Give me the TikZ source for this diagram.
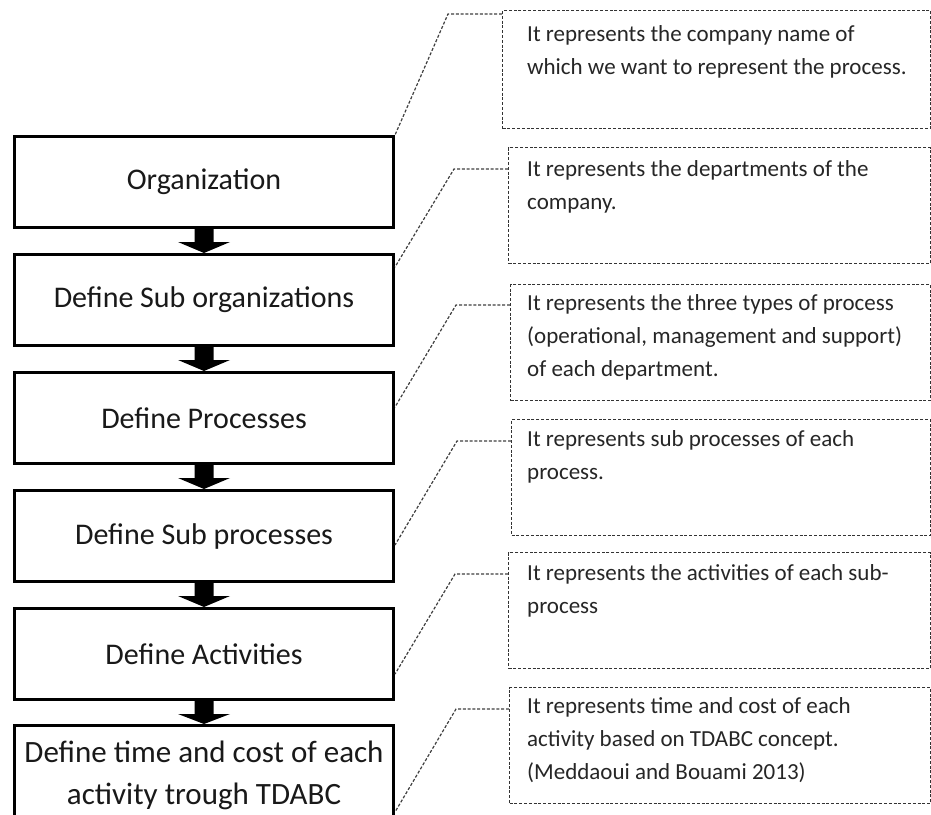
\documentclass[tikz,border=0pt]{standalone}
\usepackage{fontspec}
\setmainfont{Carlito}
\usetikzlibrary{calc}
\newcommand\blockarrow[2]{%
  \fill[black] ($(#1.south)+(-9.5,0)$) -- ($(#1.south)+(-9.5,13)$) -- ($(#1.south)+(-26,13)$) -- (#2.north)
    -- ($(#1.south)+(26,13)$) -- ($(#1.south)+(9.5,13)$) -- ($(#1.south)+(9.5,0)$) -- cycle;}
\begin{document}
\begin{tikzpicture}[x=1pt,y=-1pt,
  stepbox/.style={draw=black, line width=3pt, fill=white, minimum width=379pt, minimum height=91pt,
    anchor=north west, inner sep=0pt, font=\fontsize{30}{36}\selectfont, text=black!90, align=center},
  callout/.style={draw=black!80, line width=1.3pt, dash pattern=on 3pt off 1.8pt,
    minimum height=116pt, anchor=north west, inner sep=0pt},
  ctext/.style={anchor=base west, inner sep=0pt, align=left, font=\fontsize{23}{33}\selectfont, text=black!85},
  conn/.style={draw=black!75, line width=1.2pt, dash pattern=on 3pt off 1.8pt}
]
\useasboundingbox (0,0) rectangle (931,814);
\clip (0,0) rectangle (931,814);
\fill[white] (0,0) rectangle (931,814);

% process boxes
\node[stepbox] (b1) at (13,135) {Organization};
\node[stepbox] (b2) at (13,253) {Define Sub organizations};
\node[stepbox] (b3) at (13,371) {Define Processes};
\node[stepbox] (b4) at (13,489) {Define Sub processes};
\node[stepbox] (b5) at (13,607) {Define Activities};
\node[stepbox, minimum height=100pt, font=\fontsize{31}{42}\selectfont] (b6) at (13,724)
  {Define time and cost of each\\activity trough TDABC};

\blockarrow{b1}{b2}
\blockarrow{b2}{b3}
\blockarrow{b3}{b4}
\blockarrow{b4}{b5}
\blockarrow{b5}{b6}

% callout boxes
\node[callout, minimum width=428pt, minimum height=118pt] (c1) at (502,10) {};
\node[callout, minimum width=422pt] (c2) at (508,147) {};
\node[callout, minimum width=420pt] (c3) at (510,284) {};
\node[callout, minimum width=419pt] (c4) at (511,419) {};
\node[callout, minimum width=422pt] (c5) at (508,552) {};
\node[callout, minimum width=421pt] (c6) at (509,687) {};

% callout texts (anchored at the baseline of their last line)
\node[ctext] (t1) at (527,74) {It represents the company name of\\which we want to represent the process.};
\node[ctext] (t2) at (527,209) {It represents the departments of the\\company.};
\node[ctext] (t3) at (527,376) {It represents the three types of process\\(operational, management and support)\\of each department.};
\node[ctext] (t4) at (527,479) {It represents sub processes of each\\process.};
\node[ctext] (t5) at (527,613) {It represents the activities of each sub-\\process};
\node[ctext] (t6) at (527,779) {It represents time and cost of each\\activity based on TDABC concept.\\(Meddaoui and Bouami 2013)};

% connector bends
\coordinate (k1) at (448,14);
\coordinate (k2) at (454,169);
\coordinate (k3) at (456,305);
\coordinate (k4) at (457,441);
\coordinate (k5) at (455,574);
\coordinate (k6) at (456,709);
% connector ends on the boxes
\coordinate (e2) at ($(b2.north east)+(0,14)$);
\coordinate (e3) at ($(b3.north east)+(0,36)$);
\coordinate (e4) at ($(b4.north east)+(0,56)$);
\coordinate (e5) at ($(b5.north east)+(0,67)$);
\coordinate (e6) at ($(b6.north east)+(0,88)$);

\draw[conn] (c1.west |- k1) -- (k1) -- (b1.north east);
\draw[conn] (c2.west |- k2) -- (k2) -- (e2);
\draw[conn] (c3.west |- k3) -- (k3) -- (e3);
\draw[conn] (c4.west |- k4) -- (k4) -- (e4);
\draw[conn] (c5.west |- k5) -- (k5) -- (e5);
\draw[conn] (c6.west |- k6) -- (k6) -- (e6);
\end{tikzpicture}
\end{document}
